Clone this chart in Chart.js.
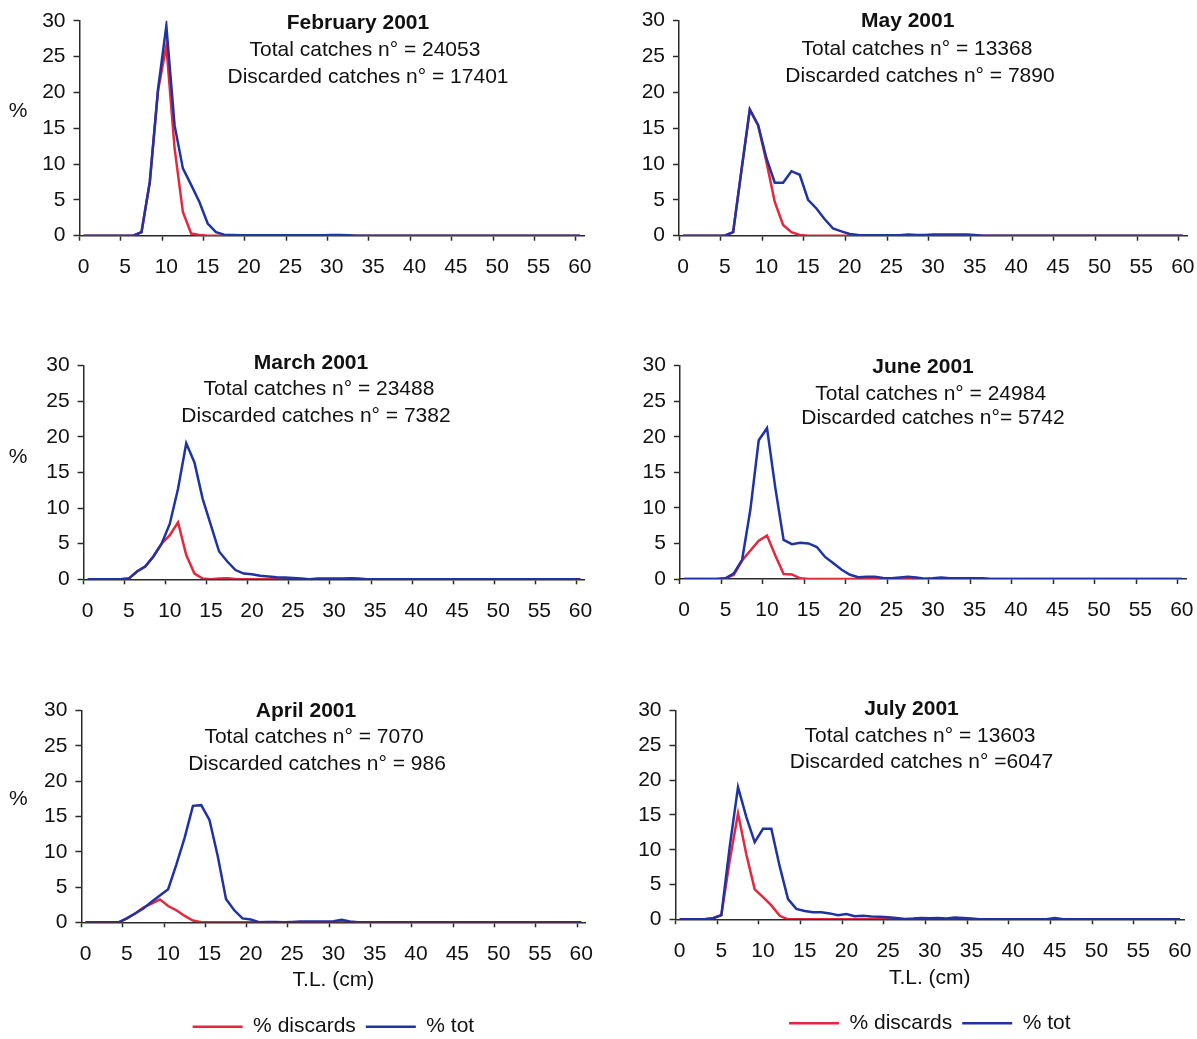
<!DOCTYPE html>
<html>
<head>
<meta charset="utf-8">
<script src="https://cdn.jsdelivr.net/npm/chart.js@4.4.1/dist/chart.umd.min.js"></script>
<style>
  html, body { margin: 0; padding: 0; width: 1197px; height: 1039px; overflow: hidden; background: #fff; }
  canvas { position: absolute; }
  .txt { position: absolute; font-family: "Liberation Sans", Arial, sans-serif; font-size: 21px; line-height: 24px;
         color: #111; white-space: nowrap; transform: translateX(-50%); }
  .bold { font-weight: bold; }
</style>
</head>
<body>
<script>
// length classes (cm)
const lengths = [0,1,2,3,4,5,6,7,8,9,10,11,12,13,14,15,16,17,18,19,20,
  21,22,23,24,25,26,27,28,29,30,31,32,33,34,35,36,37,38,39,40,
  41,42,43,44,45,46,47,48,49,50,51,52,53,54,55,56,57,58,59,60];

// % per length class
const febDisc = [0,0,0,0,0,0,0,0.5,7.5,20.3,26.5,12.2,3.3,0.3,0.1,0,0,0,0,0,0,
  0,0,0,0,0,0,0,0,0,0,0,0,0,0,0,0,0,0,0,0,0,0,0,0,0,0,0,0,0,0,0,0,0,0,0,0,0,0,0,0];
const febTot = [0,0,0,0,0,0,0,0.5,7.5,20.5,29.3,15.4,9.4,7.1,4.7,1.7,0.5,0.15,0.1,0.05,0.05,
  0.05,0.05,0.05,0.05,0.05,0.05,0.05,0.05,0.05,0.1,0.1,0.05,0,0,0,0,0,0,0,0,
  0,0,0,0,0,0,0,0,0,0,0,0,0,0,0,0,0,0,0,0];

const marDisc = [0,0,0,0,0,0.1,1.1,1.8,3.2,5.0,6.2,8.0,3.4,0.8,0.1,0,0.1,0.15,0.05,0,0,
  0,0,0,0,0,0,0,0,0,0,0,0,0,0,0,0,0,0,0,0,0,0,0,0,0,0,0,0,0,0,0,0,0,0,0,0,0,0,0,0];
const marTot = [0,0,0,0,0,0.1,1.1,1.8,3.2,5.0,7.8,12.7,19.1,16.4,11.3,7.6,3.9,2.5,1.3,0.8,0.7,
  0.5,0.4,0.3,0.25,0.2,0.1,0,0.1,0.1,0.1,0.1,0.15,0.1,0,0,0,0,0,0,0,
  0,0,0,0,0,0,0,0,0,0,0,0,0,0,0,0,0,0,0,0];

const aprDisc = [0,0,0,0,0,0.55,1.25,2.1,2.65,3.25,2.3,1.7,0.9,0.25,0,0,0,0,0,0,0,
  0,0,0,0,0,0,0,0,0,0,0,0,0,0,0,0,0,0,0,0,0,0,0,0,0,0,0,0,0,0,0,0,0,0,0,0,0,0,0,0];
const aprTot = [0,0,0,0,0,0.55,1.25,1.95,2.9,3.8,4.7,8.2,12.0,16.5,16.6,14.5,9.4,3.3,1.7,0.55,0.4,
  0,0.05,0.05,0,0.05,0.1,0.1,0.1,0.1,0.15,0.35,0.1,0,0,0,0,0,0,0,0,
  0,0,0,0,0,0,0,0,0,0,0,0,0,0,0,0,0,0,0,0];

const mayDisc = [0,0,0,0,0,0,0.5,9.1,17.6,15.4,10.3,4.7,1.5,0.5,0.1,0,0,0,0,0,0,
  0,0,0,0,0,0,0,0,0,0,0,0,0,0,0,0,0,0,0,0,0,0,0,0,0,0,0,0,0,0,0,0,0,0,0,0,0,0,0,0];
const mayTot = [0,0,0,0,0,0,0.5,9.1,17.6,15.4,10.8,7.4,7.4,9.0,8.5,5.0,3.8,2.3,1.0,0.6,0.25,
  0.1,0.05,0.05,0.05,0.05,0.05,0.15,0.1,0.1,0.15,0.15,0.15,0.15,0.15,0.1,0,0,0,0,0,
  0,0,0,0,0,0,0,0,0,0,0,0,0,0,0,0,0,0,0,0];

const junDisc = [0,0,0,0,0,0.1,0.6,2.6,4.0,5.4,6.1,3.3,0.7,0.65,0.1,0,0,0,0,0,0,
  0,0,0,0,0,0,0,0,0,0,0,0,0,0,0,0,0,0,0,0,0,0,0,0,0,0,0,0,0,0,0,0,0,0,0,0,0,0,0,0];
const junTot = [0,0,0,0,0,0.1,0.8,2.7,9.8,19.5,21.2,12.8,5.5,4.9,5.1,5.0,4.5,3.1,2.2,1.3,0.6,
  0.25,0.3,0.3,0.15,0.1,0.2,0.3,0.2,0.05,0.1,0.2,0.1,0.1,0.1,0.1,0.1,0,0,0,0,
  0,0,0,0,0,0,0,0,0,0,0,0,0,0,0,0,0,0,0,0];

const julDisc = [0,0,0,0,0.15,0.6,8.4,15.2,9.3,4.3,3.2,2.0,0.5,0,0,0,0,0,0,0,0,
  0,0,0,0,0,0,0,0,0,0,0,0,0,0,0,0,0,0,0,0,0,0,0,0,0,0,0,0,0,0,0,0,0,0,0,0,0,0,0,0];
const julTot = [0,0,0,0,0.15,0.6,10.4,19.0,14.7,11.1,13.0,13.0,7.6,2.9,1.5,1.2,1.0,1.0,0.85,0.6,0.75,
  0.45,0.5,0.4,0.35,0.3,0.2,0.05,0.1,0.2,0.15,0.2,0.1,0.25,0.2,0.1,0,0,0,0,0,
  0,0,0,0,0.2,0,0,0,0,0,0,0,0,0,0,0,0,0,0,0];

const months = ["February 2001", "March 2001", "April 2001", "May 2001", "June 2001", "July 2001"];
const totalLines = ["Total catches n° = 24053", "Total catches n° = 23488", "Total catches n° = 7070",
  "Total catches n° = 13368", "Total catches n° = 24984", "Total catches n° = 13603"];
const discLines = ["Discarded catches n° = 17401", "Discarded catches n° = 7382", "Discarded catches n° = 986",
  "Discarded catches n° = 7890", "Discarded catches n°= 5742", "Discarded catches n° =6047"];
const yTicks = [0, 5, 10, 15, 20, 25, 30];

const RED = "#e4283f";
const BLUE = "#1f33a3";
const AXIS = "#2a2a2a";
const FONT = '"Liberation Sans", Arial, sans-serif';

Chart.defaults.font.family = FONT;
Chart.defaults.font.size = 21;
Chart.defaults.color = "#111";

// plot frames in page pixels, and where the texts sit
const panels = [
  { disc: febDisc, tot: febTot, col: 0, row: 0, x0: 79.5, x1: 584, y0: 20.8, y1: 235.7,
    text: [358, 22.7, 365, 49.3, 368, 76], pct: [18, 110] },
  { disc: marDisc, tot: marTot, col: 0, row: 345, x0: 83.6, x1: 584.5, y0: 363.3, y1: 579.3,
    text: [311, 362.3, 319, 388.3, 316, 415.7], pct: [18, 456.7] },
  { disc: aprDisc, tot: aprTot, col: 0, row: 690, x0: 81.4, x1: 585.4, y0: 707.5, y1: 922.3,
    text: [306, 710, 314, 736.7, 317, 763.3], pct: [18.4, 798], legendY: 1026.7, titleY: 980 },
  { disc: mayDisc, tot: mayTot, col: 598, row: 0, x0: 679, x1: 1187, y0: 20.1, y1: 235.7,
    text: [907.7, 20.7, 917, 48.3, 920, 75] },
  { disc: junDisc, tot: junTot, col: 598, row: 345, x0: 679.9, x1: 1186, y0: 363, y1: 579,
    text: [923, 366.7, 930.7, 393.3, 933, 417.7] },
  { disc: julDisc, tot: julTot, col: 598, row: 690, x0: 675.5, x1: 1184, y0: 703.3, y1: 919.3,
    text: [911.5, 708.3, 920, 735, 921.5, 761.7], legendY: 1023.3, titleY: 978 }
];

function addText(str, x, y, bold) {
  const d = document.createElement("div");
  d.className = "txt" + (bold ? " bold" : "");
  d.textContent = str;
  d.style.left = x + "px";
  d.style.top = (y - 12.4) + "px";
  document.body.appendChild(d);
}

function makeChart(p, i) {
  const hasLegend = !!p.legendY;
  const cx = p.col;
  const yW = p.x0 - cx;
  const W = Math.ceil(p.x1 - cx + 30);
  const padR = W - (p.x1 - cx);
  const padT = p.y0 - p.row;
  const xH = hasLegend ? p.legendY - p.y1 - 20.5 : 54;
  const legH = hasLegend ? 41 : 0;
  const H = Math.ceil(p.y1 - p.row + xH + legH);
  const padB = H - (p.y1 - p.row) - xH - legH;
  const titlePadB = hasLegend ? xH - (p.titleY - p.y1) - 12.6 : 0;

  const cv = document.createElement("canvas");
  cv.width = W;
  cv.height = H;
  cv.style.left = cx + "px";
  cv.style.top = p.row + "px";
  document.body.appendChild(cv);

  new Chart(cv, {
    type: "line",
    data: {
      labels: lengths,
      datasets: [
        { label: "% discards", data: p.disc, borderColor: RED, backgroundColor: RED, borderWidth: 2.5, order: 1 },
        { label: "% tot", data: p.tot, borderColor: BLUE, backgroundColor: BLUE, borderWidth: 2.5, order: 0 }
      ]
    },
    options: {
      responsive: false,
      animation: false,
      devicePixelRatio: 1,
      layout: { padding: { left: 0, right: padR, top: padT, bottom: padB } },
      elements: {
        point: { radius: 0 },
        line: { tension: 0, fill: false }
      },
      plugins: {
        tooltip: { enabled: false },
        legend: hasLegend ? {
          display: true,
          position: "bottom",
          fullSize: false,
          labels: {
            usePointStyle: true,
            pointStyle: "line",
            pointStyleWidth: 50,
            padding: 10,
            color: "#111",
            font: { size: 21 },
            sort: (a, b) => a.datasetIndex - b.datasetIndex,
            generateLabels: (chart) => {
              const items = Chart.defaults.plugins.legend.labels.generateLabels(chart);
              items.forEach((it) => { it.lineWidth = 2.5; });
              return items;
            }
          }
        } : { display: false }
      },
      scales: {
        x: {
          type: "category",
          offset: true,
          grid: {
            offset: true,
            drawOnChartArea: false,
            drawTicks: true,
            tickLength: 5,
            tickWidth: 1.5,
            tickColor: (c) => (c.index % 5 === 0 ? AXIS : "rgba(0,0,0,0)")
          },
          border: { display: true, color: AXIS, width: 1.5 },
          ticks: {
            autoSkip: false,
            maxRotation: 0,
            padding: 14,
            color: "#111",
            callback: (v, k) => (k % 5 === 0 ? String(lengths[k]) : "")
          },
          title: hasLegend ? {
            display: true,
            text: "T.L. (cm)",
            color: "#111",
            font: { size: 21 },
            padding: { top: 0, bottom: titlePadB }
          } : { display: false },
          afterFit: (s) => { s.height = xH; }
        },
        y: {
          min: yTicks[0],
          max: yTicks[yTicks.length - 1],
          grid: { drawOnChartArea: false, drawTicks: true, tickLength: 6, tickWidth: 1.5, tickColor: AXIS },
          border: { display: true, color: AXIS, width: 1.5 },
          ticks: { stepSize: 5, padding: 8, color: "#111" },
          afterFit: (s) => { s.width = yW; }
        }
      }
    }
  });

  addText(months[i], p.text[0], p.text[1], true);
  addText(totalLines[i], p.text[2], p.text[3], false);
  addText(discLines[i], p.text[4], p.text[5], false);
  if (p.pct) addText("%", p.pct[0], p.pct[1], false);
}

panels.forEach(makeChart);
</script>
</body>
</html>
